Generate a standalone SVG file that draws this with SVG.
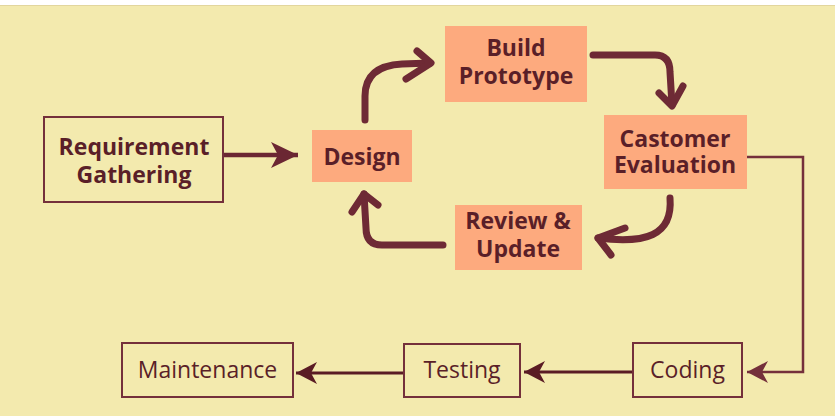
<svg xmlns="http://www.w3.org/2000/svg" width="835" height="416" viewBox="0 0 835 416">
<defs>
<style>
.bg{fill:#F3EAAE}
.box{fill:#F3EAAE;stroke:#74303B;stroke-width:2}
.hl{fill:#FDAA7E}
.tb{font-family:"Open Sans","Noto Sans",sans-serif;font-weight:bold;font-size:23px;fill:#5A1F28;text-anchor:middle}
.tr{font-family:"Open Sans","Noto Sans",sans-serif;font-size:23px;fill:#5A1F28;text-anchor:middle}
.curve{fill:none;stroke:#6E2A35;stroke-width:7;stroke-linecap:round;stroke-linejoin:round}
.thin{fill:none;stroke:#74303B;stroke-width:2.5}
.thinD{fill:none;stroke:#5A1C24;stroke-width:3}
</style>
<marker id="ahD" markerUnits="userSpaceOnUse" viewBox="-22 -12 24 24" refX="0" refY="0" markerWidth="24" markerHeight="24" orient="auto">
<path d="M-21,-11 L0,0 L-21,11 L-15,0 Z" fill="#5A1C24"/>
</marker>
<marker id="ahM" markerUnits="userSpaceOnUse" viewBox="-22 -12 24 24" refX="0" refY="0" markerWidth="24" markerHeight="24" orient="auto">
<path d="M-21,-11 L0,0 L-21,11 L-15,0 Z" fill="#74303B"/>
</marker>
<marker id="ahB" markerUnits="userSpaceOnUse" viewBox="-28 -15 30 30" refX="0" refY="0" markerWidth="30" markerHeight="30" orient="auto">
<path d="M-27,-13 L0,0 L-27,13 L-20,0 Z" fill="#6B2733"/>
</marker>
</defs>
<rect x="0" y="0" width="835" height="416" fill="#FFFFFF"/>
<rect class="bg" x="0" y="5" width="835" height="411"/>
<line x1="0" y1="5.5" x2="835" y2="5.5" stroke="#E2D69E" stroke-width="1"/>

<g id="connectors">
<line x1="223" y1="155" x2="298" y2="155" stroke="#6B2733" stroke-width="4.5" marker-end="url(#ahB)"/>
<path class="curve" d="M365,120 V96 Q365,66 402,64 L430,63"/>
<path class="curve" d="M417,51 L431,63 L406,79"/>
<path class="curve" d="M593,55 H655 Q670,55 670,72 L672,105"/>
<path class="curve" d="M659,93 L672,106 L683,86"/>
<path class="curve" d="M670,198 C673,236 645,244 598,238"/>
<path class="curve" d="M625,228 L598,238 L611,255"/>
<path class="curve" d="M443,245 H382 Q366,245 366,228 L364,194"/>
<path class="curve" d="M352,212 L364,194 L378,205"/>
<polyline class="thin" points="747,157 803,157 803,372 747,372" marker-end="url(#ahM)"/>
<line class="thinD" x1="633" y1="372" x2="524" y2="372" marker-end="url(#ahD)"/>
<line class="thinD" x1="404" y1="373" x2="296" y2="373" marker-end="url(#ahD)"/>
</g>

<g id="requirement-gathering">
<rect class="box" x="44" y="117" width="179" height="85"/>
<text class="tb"><tspan x="134" y="155">Requirement</tspan><tspan x="134" y="183">Gathering</tspan></text>
</g>
<g id="design">
<rect class="hl" x="312" y="130" width="100" height="52"/>
<text class="tb" x="362" y="165">Design</text>
</g>
<g id="build-prototype">
<rect class="hl" x="445" y="26" width="142" height="76"/>
<text class="tb"><tspan x="516" y="56">Build</tspan><tspan x="516" y="84">Prototype</tspan></text>
</g>
<g id="castomer-evaluation">
<rect class="hl" x="604" y="115" width="143" height="74"/>
<text class="tb"><tspan x="675" y="147">Castomer</tspan><tspan x="675" y="173">Evaluation</tspan></text>
</g>
<g id="review-update">
<rect class="hl" x="455" y="205" width="127" height="65"/>
<text class="tb"><tspan x="518" y="229">Review &amp;</tspan><tspan x="518" y="257">Update</tspan></text>
</g>
<g id="maintenance">
<rect class="box" x="122" y="343" width="171" height="54"/>
<text class="tr" x="207.5" y="378">Maintenance</text>
</g>
<g id="testing">
<rect class="box" x="404" y="344" width="116" height="53"/>
<text class="tr" x="462" y="378">Testing</text>
</g>
<g id="coding">
<rect class="box" x="633" y="343" width="109" height="54"/>
<text class="tr" x="687.5" y="378">Coding</text>
</g>
</svg>
